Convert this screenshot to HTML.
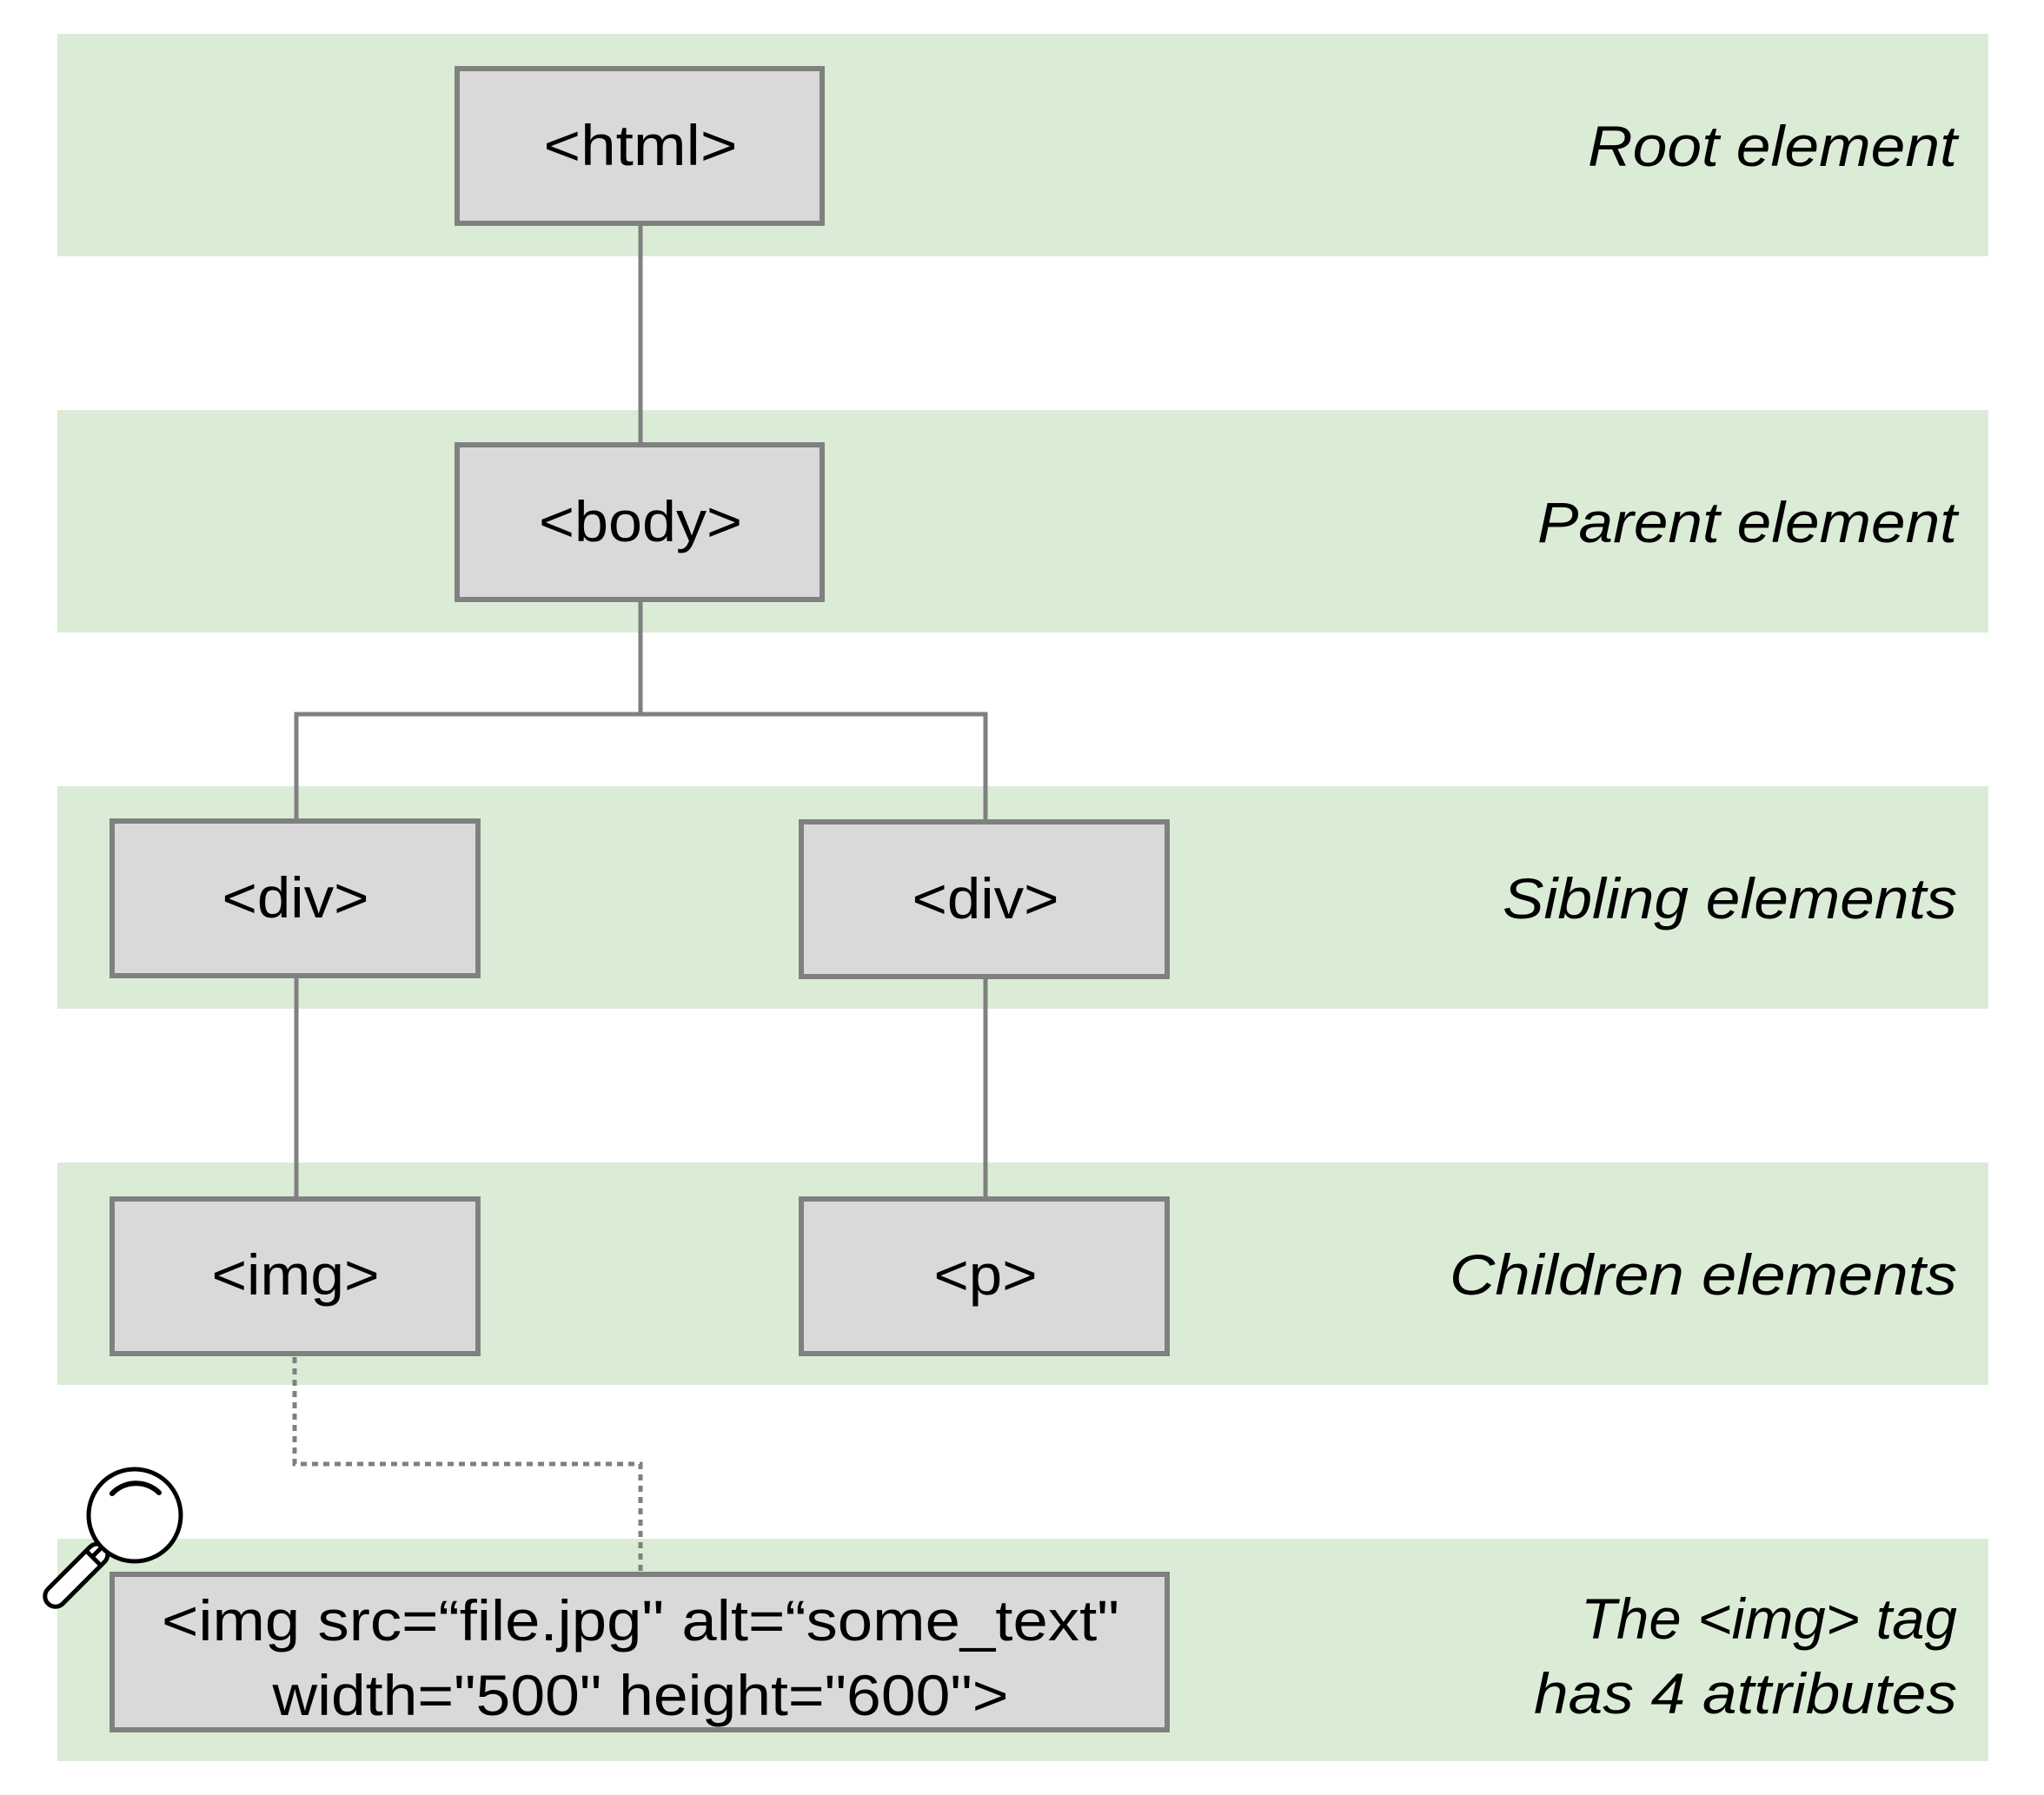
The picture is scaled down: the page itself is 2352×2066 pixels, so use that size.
<!DOCTYPE html>
<html><head><meta charset="utf-8"><style>
html,body{margin:0;padding:0;background:#fff;}
svg{display:block;}
text{font-family:"Liberation Sans",sans-serif;fill:#000;}
.b{font-size:66px;text-anchor:middle;}
.l{font-size:66px;font-style:italic;text-anchor:end;}
</style></head><body>
<svg width="2352" height="2066" viewBox="0 0 2352 2066" xmlns="http://www.w3.org/2000/svg">
<g fill="#dbecd6">
<rect x="66" y="39" width="2222" height="256"/>
<rect x="66" y="472" width="2222" height="256"/>
<rect x="66" y="905" width="2222" height="256"/>
<rect x="66" y="1338" width="2222" height="256"/>
<rect x="66" y="1771" width="2222" height="256"/>
</g>
<g stroke="#808080" stroke-width="5" fill="none">
<line x1="737" y1="258" x2="737" y2="512"/>
<polyline points="341,946 341,822 1134,822 1134,946"/>
<line x1="737" y1="692" x2="737" y2="822"/>
<line x1="341" y1="1125" x2="341" y2="1380"/>
<line x1="1134" y1="1125" x2="1134" y2="1380"/>
<polyline points="339,1562 339,1685 737,1685 737,1809" stroke-dasharray="7 6"/>
</g>
<g fill="#d9d9d9" stroke="#808080" stroke-width="6">
<rect x="526" y="79" width="420" height="178"/>
<rect x="526" y="512" width="420" height="178"/>
<rect x="129" y="945" width="421" height="178"/>
<rect x="922" y="946" width="421" height="178"/>
<rect x="129" y="1380" width="421" height="178"/>
<rect x="922" y="1380" width="421" height="178"/>
<rect x="129" y="1812" width="1214" height="179"/>
</g>
<g>
<text class="b" x="737" y="190" textLength="223" lengthAdjust="spacingAndGlyphs">&lt;html&gt;</text>
<text class="b" x="737" y="623" textLength="234" lengthAdjust="spacingAndGlyphs">&lt;body&gt;</text>
<text class="b" x="340" y="1056" textLength="169" lengthAdjust="spacingAndGlyphs">&lt;div&gt;</text>
<text class="b" x="1134" y="1057" textLength="169" lengthAdjust="spacingAndGlyphs">&lt;div&gt;</text>
<text class="b" x="340" y="1490" textLength="193" lengthAdjust="spacingAndGlyphs">&lt;img&gt;</text>
<text class="b" x="1134" y="1490" textLength="119" lengthAdjust="spacingAndGlyphs">&lt;p&gt;</text>
<text class="b" x="737" y="1888" textLength="1102" lengthAdjust="spacingAndGlyphs">&lt;img src=“file.jpg" alt=“some_text"</text>
<text class="b" x="737" y="1974" textLength="847" lengthAdjust="spacingAndGlyphs">width="500" height="600"&gt;</text>
<text class="l" x="2252" y="191" textLength="425" lengthAdjust="spacingAndGlyphs">Root element</text>
<text class="l" x="2252" y="624" textLength="483" lengthAdjust="spacingAndGlyphs">Parent element</text>
<text class="l" x="2252" y="1057" textLength="523" lengthAdjust="spacingAndGlyphs">Sibling elements</text>
<text class="l" x="2252" y="1490" textLength="584" lengthAdjust="spacingAndGlyphs">Children elements</text>
<text class="l" x="2252" y="1886" textLength="433" lengthAdjust="spacingAndGlyphs">The &lt;img&gt; tag</text>
<text class="l" x="2252" y="1972" textLength="487" lengthAdjust="spacingAndGlyphs">has 4 attributes</text>
</g>
<g stroke="#000" stroke-width="5" fill="#fff" stroke-linecap="round">
<g transform="rotate(45 85 1816)">
<rect x="73" y="1766" width="24" height="92" rx="12"/>
<line x1="73" y1="1784" x2="97" y2="1784"/>
</g>
<line x1="108" y1="1790" x2="117" y2="1781"/>
<circle cx="155" cy="1744" r="53"/>
<path d="M129,1719 A38,38 0 0 1 183,1718" fill="none" stroke-width="6"/>
</g>
</svg>
</body></html>
